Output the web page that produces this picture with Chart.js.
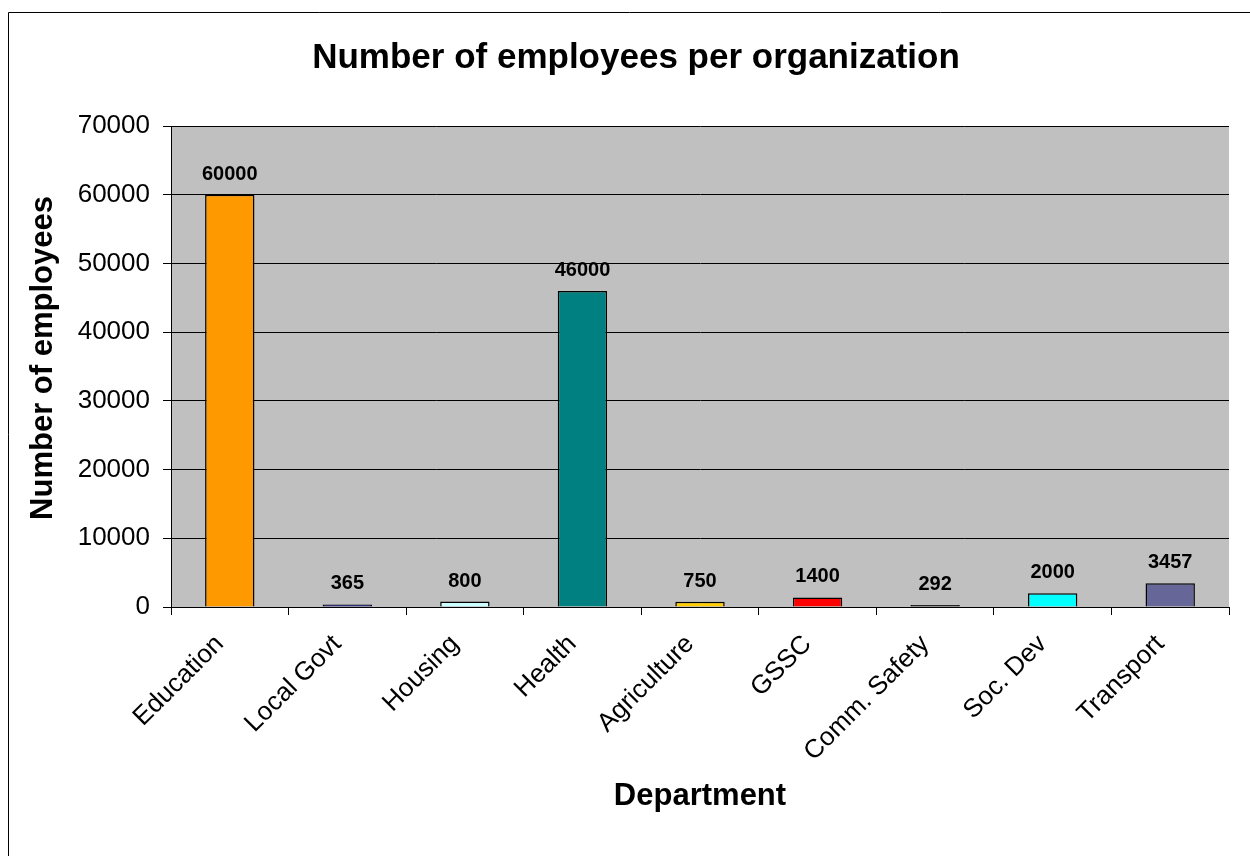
<!DOCTYPE html>
<html lang="en">
<head>
<meta charset="UTF-8">
<script src="https://cdn.jsdelivr.net/npm/chart.js@4.4.1/dist/chart.umd.min.js"></script>
<title>Number of employees per organization</title>
<style>
  html, body { margin: 0; padding: 0; background: #fff; }
  #wrap { width: 1250px; height: 856px; }
</style>
</head>
<body>
<div id="wrap"><canvas id="myChart" width="1250" height="856"></canvas></div>
<script>
const departments = ['Education', 'Local Govt', 'Housing', 'Health', 'Agriculture', 'GSSC', 'Comm. Safety', 'Soc. Dev', 'Transport'];
const employees = [60000, 365, 800, 46000, 750, 1400, 292, 2000, 3457];
const barColors = ['#FF9900', '#000080', '#CCFFFF', '#008080', '#FFCC00', '#FF0000', '#000000', '#00FFFF', '#666699'];
const yTicks = [0, 10000, 20000, 30000, 40000, 50000, 60000, 70000];

const FONT = '"Liberation Sans", Arial, sans-serif';

// grey plot background, outer frame and titles
const decor = {
  id: 'decor',
  beforeDraw(chart) {
    const { ctx, chartArea: a } = chart;
    ctx.save();
    ctx.fillStyle = '#C0C0C0';
    ctx.fillRect(a.left, a.top, a.right - a.left, a.bottom - a.top);
    ctx.strokeStyle = '#000';
    ctx.lineWidth = 1;
    ctx.beginPath();
    ctx.moveTo(8.5, 900);
    ctx.lineTo(8.5, 12.5);
    ctx.lineTo(1260, 12.5);
    ctx.stroke();
    ctx.restore();
  },
  afterDraw(chart) {
    const { ctx, chartArea: a } = chart;
    ctx.save();
    ctx.fillStyle = '#000';
    ctx.textAlign = 'center';
    ctx.textBaseline = 'alphabetic';
    ctx.font = 'bold 35px ' + FONT;
    ctx.fillText('Number of employees per organization', 636, 68);
    ctx.font = 'bold 31px ' + FONT;
    ctx.fillText('Department', (a.left + a.right) / 2, 805);
    ctx.translate(52, 358);
    ctx.rotate(-Math.PI / 2);
    ctx.fillText('Number of employees', 0, 0);
    ctx.restore();
  }
};

// value labels above the bars
const valueLabels = {
  id: 'valueLabels',
  afterDatasetsDraw(chart) {
    const { ctx } = chart;
    const meta = chart.getDatasetMeta(0);
    ctx.save();
    ctx.fillStyle = '#000';
    ctx.font = 'bold 20px ' + FONT;
    ctx.textAlign = 'center';
    ctx.textBaseline = 'alphabetic';
    meta.data.forEach((bar, i) => {
      ctx.fillText(String(employees[i]), bar.x, bar.y - 15);
    });
    ctx.restore();
  }
};

const ctx = document.getElementById('myChart').getContext('2d');
const myChart = new Chart(ctx, {
  type: 'bar',
  data: {
    labels: departments,
    datasets: [{
      data: employees,
      backgroundColor: barColors,
      borderColor: '#000',
      borderWidth: 1.5,
      barPercentage: 0.42,
      categoryPercentage: 1
    }]
  },
  options: {
    responsive: false,
    animation: false,
    layout: { padding: { left: 8, top: 126, right: 21, bottom: 0 } },
    plugins: {
      legend: { display: false },
      tooltip: { enabled: false },
      title: { display: false }
    },
    scales: {
      x: {
        afterFit(scale) { scale.height = 249; },
        grid: { drawOnChartArea: false, offset: true, color: '#000', tickLength: 8, tickWidth: 1 },
        border: { color: '#000', width: 1 },
        ticks: {
          color: '#000',
          font: { family: FONT, size: 26 },
          minRotation: 45,
          maxRotation: 45,
          autoSkip: false,
          padding: 14,
          labelOffset: -10
        }
      },
      y: {
        min: 0,
        max: 70000,
        afterFit(scale) { scale.width = 163; },
        afterBuildTicks(scale) { scale.ticks = yTicks.map(v => ({ value: v })); },
        grid: { color: '#000', tickLength: 8, lineWidth: 1 },
        border: { color: '#000', width: 1 },
        ticks: {
          color: '#000',
          font: { family: FONT, size: 26 },
          padding: 13,
          callback: (v) => String(v)
        }
      }
    }
  },
  plugins: [decor, valueLabels]
});
</script>
</body>
</html>
